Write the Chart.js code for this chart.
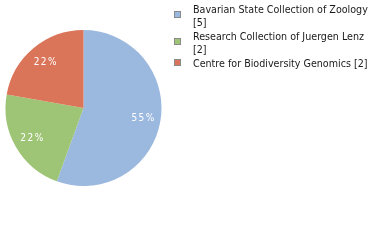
<!DOCTYPE html>
<html><head><meta charset="utf-8">
<script src="https://cdn.jsdelivr.net/npm/chart.js@4/dist/chart.umd.min.js"></script>
<style>html,body{margin:0;padding:0;background:#fff;}#wrap{width:380px;height:240px;position:relative;}</style>
</head><body><div id="wrap"><canvas id="c" width="380" height="240"></canvas></div>
<script>
const categories = ["Bavarian State Collection of Zoology", "Research Collection of Juergen Lenz", "Centre for Biodiversity Genomics"];
const counts = [5, 2, 2];
const legendLines = [["Bavarian State Collection of Zoology", "[5]"], ["Research Collection of Juergen Lenz", "[2]"], ["Centre for Biodiversity Genomics [2]"]];
const colors = ["#9bb8de", "#9ec475", "#db7559"];

const total = counts.reduce((a,b)=>a+b,0);
const FONT = '"DejaVu Sans Condensed", "DejaVu Sans", Verdana, sans-serif';

const labelPlugin = {
  id: 'labels',
  afterDatasetsDraw(chart) {
    const ctx = chart.ctx;
    const meta = chart.getDatasetMeta(0);
    ctx.save();
    ctx.fillStyle = '#fff';
    ctx.font = '10px ' + FONT;
    ctx.textAlign = 'center';
    ctx.textBaseline = 'middle';
    ctx.letterSpacing = '1.5px';
    meta.data.forEach((arc, i) => {
      const mid = (arc.startAngle + arc.endAngle) / 2;
      const r = arc.outerRadius * 0.77;
      const x = arc.x + Math.cos(mid) * r + 1;
      const y = arc.y + Math.sin(mid) * r;
      const pct = Math.floor(counts[i] / total * 100) + '%';
      ctx.fillText(pct, x, y);
    });
    ctx.restore();
  }
};

const legendPlugin = {
  id: 'customLegend',
  afterDraw(chart) {
    const ctx = chart.ctx;
    ctx.save();
    ctx.font = '11px ' + FONT;
    const w = ctx.measureText(legendLines[0][0]).width;
    const size = 11 * 175 / w;
    ctx.font = size.toFixed(2) + 'px ' + FONT;
    ctx.textBaseline = 'alphabetic';
    const lineH = 13.5;
    let top = 5;
    legendLines.forEach((lines, i) => {
      const blockH = lines.length * lineH;
      const cy = top + (lines.length === 1 ? 3.5 : 9.5);
      ctx.fillStyle = colors[i];
      ctx.fillRect(174.5, cy - 3, 6, 6);
      ctx.strokeStyle = '#8a8a8a';
      ctx.lineWidth = 1;
      ctx.strokeRect(174.5, cy - 3, 6, 6);
      ctx.fillStyle = '#1a1a1a';
      lines.forEach((t, j) => {
        ctx.fillText(t, 193, top + 7.5 + j * lineH);
      });
      top += blockH;
    });
    ctx.restore();
  }
};

new Chart(document.getElementById('c'), {
  type: 'pie',
  data: {
    labels: categories,
    datasets: [{ data: counts, backgroundColor: colors, borderWidth: 0 }]
  },
  options: {
    responsive: false,
    animation: false,
    layout: { padding: { left: 5.5, top: 30, right: 218.5, bottom: 54 } },
    plugins: { legend: { display: false }, tooltip: { enabled: false } }
  },
  plugins: [labelPlugin, legendPlugin]
});
</script></body></html>
